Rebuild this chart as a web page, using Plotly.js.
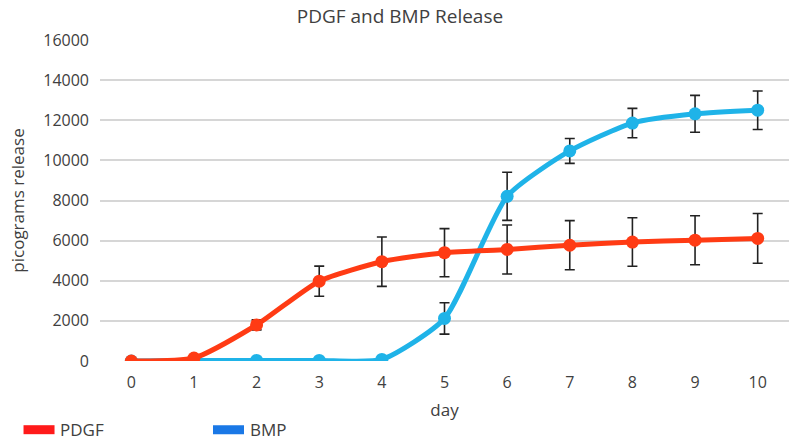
<!DOCTYPE html>
<html>
<head>
<meta charset="utf-8">
<script src="https://cdn.plot.ly/plotly-3.0.1.min.js"></script>
<style>
  html, body { margin: 0; padding: 0; background: #fff; }
  #chart { width: 792px; height: 442px; }
</style>
</head>
<body>
<div id="chart"></div>
<script>
    // values
    var days = [0, 1, 2, 3, 4, 5, 6, 7, 8, 9, 10];
    var pdgf = [0, 150, 1800, 3980, 4950, 5400, 5560, 5770, 5930, 6020, 6110];
    var pdgfErr = [0, 0, 250, 750, 1230, 1200, 1220, 1225, 1210, 1220, 1240];
    var bmp = [0, 30, 30, 30, 80, 2120, 8210, 10470, 11860, 12320, 12500];
    var bmpErr = [0, 0, 0, 0, 0, 780, 1200, 620, 730, 920, 960];
    var yTicks = [0, 2000, 4000, 6000, 8000, 10000, 12000, 14000, 16000];

    var font = '"Open Sans", "Noto Sans", sans-serif';

    var bmpTrace = {
        x: days,
        y: bmp,
        type: 'scatter',
        mode: 'lines+markers',
        name: 'BMP',
        showlegend: false,
        line: { color: '#1fb3e8', width: 5, shape: 'spline', smoothing: 0.6 },
        marker: { color: '#1fb3e8', size: 13 },
        error_y: { type: 'data', array: bmpErr, visible: true, color: '#222', thickness: 1.6, width: 5 }
    };

    var pdgfTrace = {
        x: days,
        y: pdgf,
        type: 'scatter',
        mode: 'lines+markers',
        name: 'PDGF',
        showlegend: false,
        line: { color: '#ff3b14', width: 5, shape: 'spline', smoothing: 0.6 },
        marker: { color: '#ff3b14', size: 13 },
        error_y: { type: 'data', array: pdgfErr, visible: true, color: '#222', thickness: 1.6, width: 5 }
    };

    var layout = {
        width: 792,
        height: 442,
        margin: { t: 40, r: 3, b: 81, l: 100 },
        paper_bgcolor: '#fff',
        plot_bgcolor: '#fff',
        font: { family: font, color: '#404040' },
        title: {
            text: 'PDGF and BMP Release',
            font: { family: font, size: 19, color: '#404040' },
            x: 0.505, xanchor: 'center', y: 0.962, yanchor: 'middle'
        },
        xaxis: {
            range: [-0.5, 10.5],
            tickmode: 'array',
            tickvals: days,
            ticktext: days.map(String),
            showgrid: false,
            zeroline: false,
            showline: false,
            ticks: '',
            ticklabelstandoff: 10,
            tickfont: { size: 16, color: '#404040' },
            title: { text: 'day', font: { size: 17, color: '#404040' }, standoff: 12 }
        },
        yaxis: {
            range: [0, 16000],
            tickmode: 'array',
            tickvals: yTicks,
            ticktext: yTicks.map(String),
            showgrid: true,
            gridcolor: '#d6d6d6',
            gridwidth: 1.5,
            zeroline: false,
            showline: false,
            ticks: '',
            ticklabelstandoff: 10,
            tickfont: { size: 16, color: '#404040' },
            title: { text: 'picograms release', font: { size: 17, color: '#404040' }, standoff: 14 }
        },
        shapes: [
            { type: 'rect', xref: 'paper', yref: 'paper', x0: -0.111, x1: -0.066, y0: -0.2, y1: -0.228,
              fillcolor: '#ff1a1a', line: { width: 0 } },
            { type: 'rect', xref: 'paper', yref: 'paper', x0: 0.164, x1: 0.209, y0: -0.2, y1: -0.228,
              fillcolor: '#1a78e6', line: { width: 0 } }
        ],
        annotations: [
            { text: 'PDGF', xref: 'paper', yref: 'paper', x: -0.061, y: -0.214, xanchor: 'left', yanchor: 'middle',
              showarrow: false, font: { size: 17, color: '#404040' } },
            { text: 'BMP', xref: 'paper', yref: 'paper', x: 0.215, y: -0.214, xanchor: 'left', yanchor: 'middle',
              showarrow: false, font: { size: 17, color: '#404040' } }
        ]
    };

    var config = { displayModeBar: false, responsive: false };

    Plotly.newPlot('chart', [bmpTrace, pdgfTrace], layout, config);
</script>
</body>
</html>
